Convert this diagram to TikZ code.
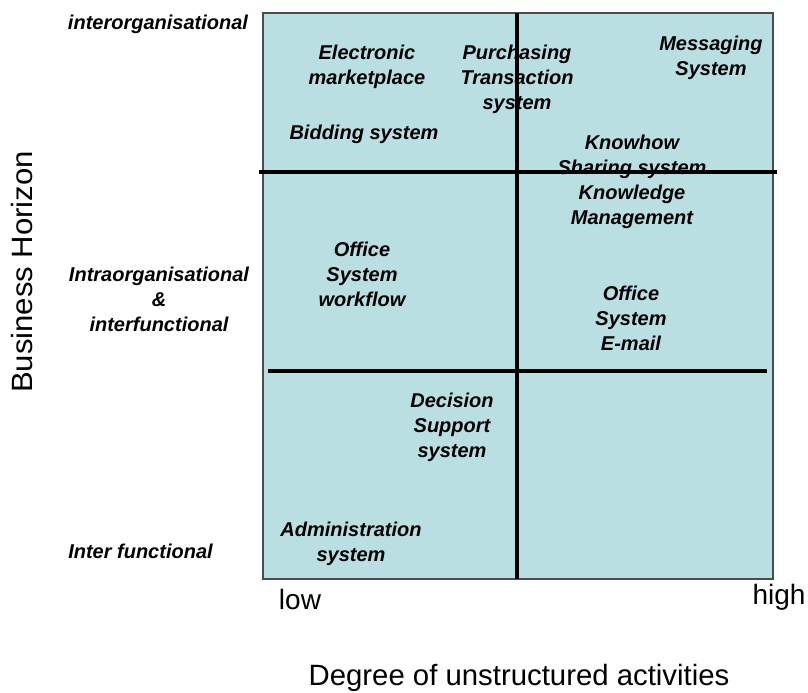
\documentclass[tikz,border=0pt]{standalone}
\usepackage{fontspec}
\setmainfont{Liberation Sans}
\definecolor{quad}{RGB}{186,223,227}
\tikzset{
  lbl/.style={font=\fontsize{15}{18.75}\selectfont\bfseries\itshape, align=center, inner sep=0pt, anchor=center},
  axis/.style={font=\fontsize{21}{25}\selectfont, inner sep=0pt},
  divider/.style={line width=2.4pt, black}
}
\begin{document}
\begin{tikzpicture}[x=0.75pt,y=-0.75pt]
\useasboundingbox (0,0) rectangle (808,693);
% quadrant background
\filldraw[fill=quad, draw=black!70, line width=0.8pt] (263,13) rectangle (773,579);
% labels inside
\node[lbl] (elec) at (367,67) {Electronic\\marketplace};
\node[lbl] (purch) at (517,79.5) {Purchasing\\Transaction\\system};
\node[lbl] (msg) at (711,58) {Messaging\\System};
\node[lbl] (bid) at (364,134.5) {Bidding system};
\node[lbl] (know) at (632,182) {Knowhow\\Sharing system\\Knowledge\\Management};
\node[lbl] (offw) at (362,274.5) {Office\\System\\workflow};
\node[lbl] (offe) at (631,318.5) {Office\\System\\E-mail};
\node[lbl] (dss) at (452,427.5) {Decision\\Support\\system};
\node[lbl] (adm) at (351,544) {Administration\\system};
% left labels
\node[lbl] (inter) at (158,24.5) {interorganisational};
\node[lbl] (intra) at (159,299.5) {Intraorganisational\\\&\\interfunctional};
\node[lbl, anchor=west] (ifun) at (68,551.5) {Inter functional};
% dividers
\draw[divider] (517,13) -- (517,579);
\draw[divider] (259,172) -- (777,172);
\draw[divider] (268,371) -- (767,371);
% axis labels
\node[axis] (low) at (300,599) {low};
\node[axis] (high) at (779,597) {high};
\node[axis, font=\fontsize{22}{26}\selectfont] (xlab) at (519,678) {Degree of unstructured activities};
\node[axis, font=\fontsize{22}{26}\selectfont, rotate=90, xscale=1.06] (ylab) at (22,272) {Business Horizon};
\end{tikzpicture}
\end{document}
